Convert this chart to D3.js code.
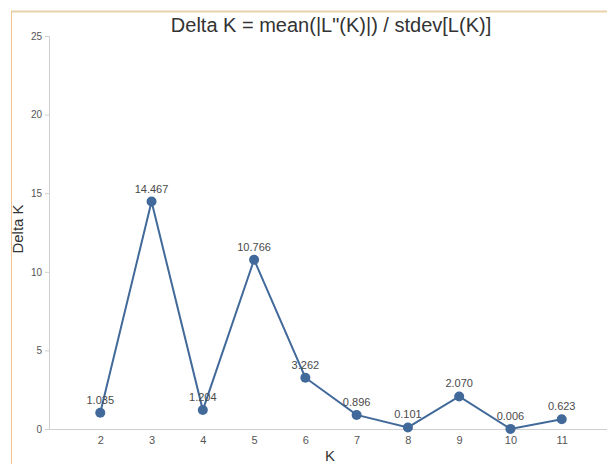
<!DOCTYPE html>
<html>
<head>
<meta charset="utf-8">
<script src="https://cdn.jsdelivr.net/npm/d3@7"></script>
<style>
  html, body { margin: 0; padding: 0; background: #fff; }
  svg { display: block; font-family: "Liberation Sans", Arial, sans-serif; }
</style>
</head>
<body>
<svg id="chart" width="607" height="464"></svg>
<script>
// Delta K for each number of clusters K (Evanno method)
const kValues = [2, 3, 4, 5, 6, 7, 8, 9, 10, 11];
const deltaK = [1.035, 14.467, 1.204, 10.766, 3.262, 0.896, 0.101, 2.070, 0.006, 0.623];
const yTicks = [0, 5, 10, 15, 20, 25];
const titleText = "Delta K = mean(|L\"(K)|) / stdev[L(K)]";

const svg = d3.select("#chart");
const W = 607, H = 464;

// outer frame
svg.append("line").attr("x1", 11).attr("x2", W).attr("y1", 11.5).attr("y2", 11.5)
  .attr("stroke", "#e9d2aa").attr("stroke-width", 2);
svg.append("line").attr("x1", 11.5).attr("x2", 11.5).attr("y1", 11).attr("y2", H)
  .attr("stroke", "#f3c48e").attr("stroke-width", 1);

const x = d3.scaleLinear().domain([1, 12]).range([49, 613]);
const y = d3.scaleLinear().domain([0, 25]).range([429, 36]);

// y axis
const yAxis = svg.append("g").attr("transform", "translate(49,0)")
  .call(d3.axisLeft(y).tickValues(yTicks).tickSize(4).tickPadding(3));
yAxis.select(".domain").attr("stroke", "#cfcfcf");
yAxis.selectAll(".tick line").attr("stroke", "#cfcfcf");
yAxis.selectAll(".tick text").attr("fill", "#555").style("font-size", "10px");

// x axis
const xAxis = svg.append("g").attr("transform", "translate(0,429)")
  .call(d3.axisBottom(x).tickValues(kValues).tickSize(0).tickPadding(7).tickFormat(d3.format("d")));
xAxis.select(".domain").attr("stroke", "#cfcfcf");
xAxis.selectAll(".tick text").attr("fill", "#555").style("font-size", "11px");

// titles
svg.append("text").attr("x", 331).attr("y", 32).attr("text-anchor", "middle")
  .attr("fill", "#333").style("font-size", "20px").text(titleText);
svg.append("text").attr("transform", "translate(23,229) rotate(-90)").attr("text-anchor", "middle")
  .attr("fill", "#333").style("font-size", "15px").text("Delta K");
svg.append("text").attr("x", 330).attr("y", 461).attr("text-anchor", "middle")
  .attr("fill", "#333").style("font-size", "15px").text("K");

const data = kValues.map((k, i) => ({ k, v: deltaK[i] }));

// series line
svg.append("path").datum(data)
  .attr("fill", "none").attr("stroke", "#41699a").attr("stroke-width", 2)
  .attr("d", d3.line().x(d => x(d.k)).y(d => y(d.v)));

// markers
svg.selectAll("circle.pt").data(data).join("circle").attr("class", "pt")
  .attr("cx", d => x(d.k)).attr("cy", d => y(d.v)).attr("r", 5)
  .attr("fill", "#41699a");

// value labels
svg.selectAll("text.val").data(data).join("text").attr("class", "val")
  .attr("x", d => x(d.k)).attr("y", d => y(d.v) - 9).attr("text-anchor", "middle")
  .attr("fill", "#4a4a4a").style("font-size", "11px")
  .text(d => d.v.toFixed(3));
</script>
</body>
</html>
